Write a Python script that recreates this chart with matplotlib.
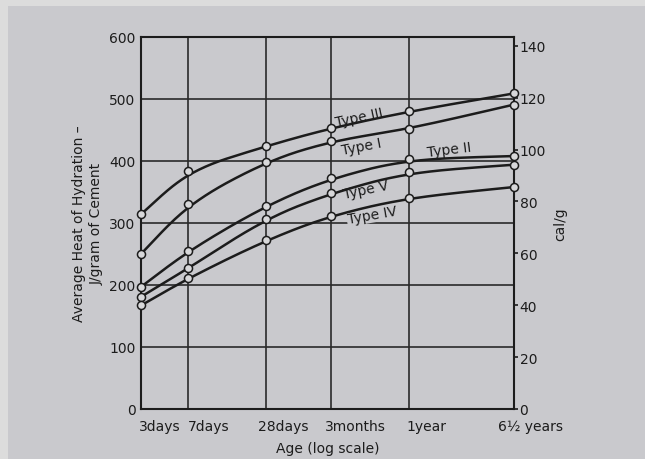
import numpy as np
import matplotlib
matplotlib.use("Agg")
import matplotlib.pyplot as plt
from matplotlib.patches import Rectangle
from matplotlib.transforms import ScaledTranslation

# ---- data ----
age_days = [3, 7, 28, 90, 365, 2372]
age_labels = ["3days", "7days", "28days", "3months", "1year", "6\u00bd years"]
type_I = [250, 331, 399, 432, 452, 491]
type_II = [197, 255, 328, 372, 403, 408]
type_III = [314, 384, 424, 453, 480, 509]
type_IV = [167, 211, 272, 312, 341, 358]
type_V = [181, 227, 307, 348, 382, 394]
series_names = ["Type III", "Type I", "Type II", "Type V", "Type IV"]
y_ticks = [0, 100, 200, 300, 400, 500, 600]
cal_ticks = [0, 20, 40, 60, 80, 100, 120, 140]
J_PER_CAL = 4.184

INK = "#1c1c1c"
BG = "#c9c9cd"


def chaikin(px, py, iters=5):
    """Smooth a polyline by corner cutting (ends kept)."""
    p = np.column_stack([px, py]).astype(float)
    for _ in range(iters):
        n = len(p)
        out = [p[0]]
        for i in range(n - 1):
            a, b = p[i], p[i + 1]
            if i > 0:
                out.append(0.75 * a + 0.25 * b)
            if i < n - 2:
                out.append(0.25 * a + 0.75 * b)
        out.append(p[-1])
        p = np.array(out)
    return p[:, 0], p[:, 1]


plt.rcParams["font.family"] = ["DejaVu Sans"]
fig = plt.figure(figsize=(6.45, 4.6), dpi=100, facecolor="#dcdcdc")
fig.patches.append(Rectangle((8 / 645, 0), 1, 1 - 7 / 460, transform=fig.transFigure,
                             facecolor=BG, edgecolor="none", zorder=-10))
ax = fig.add_axes([141 / 645, 1 - 410 / 460, (514 - 141) / 645, (410 - 38) / 460])
ax.set_facecolor(BG)
ax.set_xscale("log")
ax.set_xlim(age_days[0], age_days[-1])
ax.set_ylim(0, 600)

ax.set_xticks(age_days)
ax.set_xticklabels(age_labels, fontsize=10, color=INK, ha="left")
ax.xaxis.set_minor_locator(matplotlib.ticker.NullLocator())
ax.set_yticks(y_ticks)
ax.set_yticklabels([str(v) for v in y_ticks], fontsize=10, color=INK)
ax.tick_params(axis="both", length=0)
ax.tick_params(axis="x", pad=7)
ax.tick_params(axis="y", pad=4)
offs_px = [-2, 0, -8, -6, -3, -16]
for lab, dx in zip(ax.get_xticklabels(), offs_px):
    lab.set_transform(lab.get_transform() + ScaledTranslation(dx / 100, 0, fig.dpi_scale_trans))

ax.grid(True, color="#2a2a2a", linewidth=1.2, zorder=0)
ax.set_axisbelow(True)
for s in ax.spines.values():
    s.set_color(INK); s.set_linewidth(1.5)

all_series = [type_III, type_I, type_II, type_V, type_IV]
lx = np.log10(age_days)
for vals in all_series:
    cx, cy = chaikin(lx, vals)
    ax.plot(10 ** cx, cy, color=INK, linewidth=1.8, zorder=4, clip_on=False)
    ax.plot(age_days, vals, linestyle="none", marker="o", markersize=5.8,
            markerfacecolor="#d8d8da", markeredgecolor=INK, markeredgewidth=1.1,
            zorder=5, clip_on=False)

# curve labels
label_pos = [(148, 471, 12), (156, 424, 11), (741, 419, 7), (168, 355, 12), (187, 313, 10)]
for name, (xd, yv, rot) in zip(series_names, label_pos):
    ax.text(xd, yv, name, fontsize=10, color=INK, rotation=rot, ha="center", va="center",
            zorder=3, rotation_mode="anchor",
            bbox=dict(facecolor=BG, edgecolor="none", pad=0.5))

ax.set_xlabel("Age (log scale)", fontsize=10, color=INK, labelpad=6)
ax.set_ylabel("Average Heat of Hydration \u2013\nJ/gram of Cement", fontsize=10,
              color=INK, labelpad=4, linespacing=1.35)

ax2 = ax.twinx()
ax2.set_ylim(0, 600 / J_PER_CAL)
ax2.set_yticks(cal_ticks)
ax2.set_yticklabels([str(v) for v in cal_ticks], fontsize=10, color=INK)
ax2.tick_params(axis="y", direction="out", length=3, width=1.2, color=INK, pad=1)
for s in ax2.spines.values():
    s.set_visible(False)
ax2.set_ylabel("cal/g", fontsize=10, color=INK, rotation=90, labelpad=5)

fig.savefig("out.png", dpi=100, facecolor=fig.get_facecolor())
